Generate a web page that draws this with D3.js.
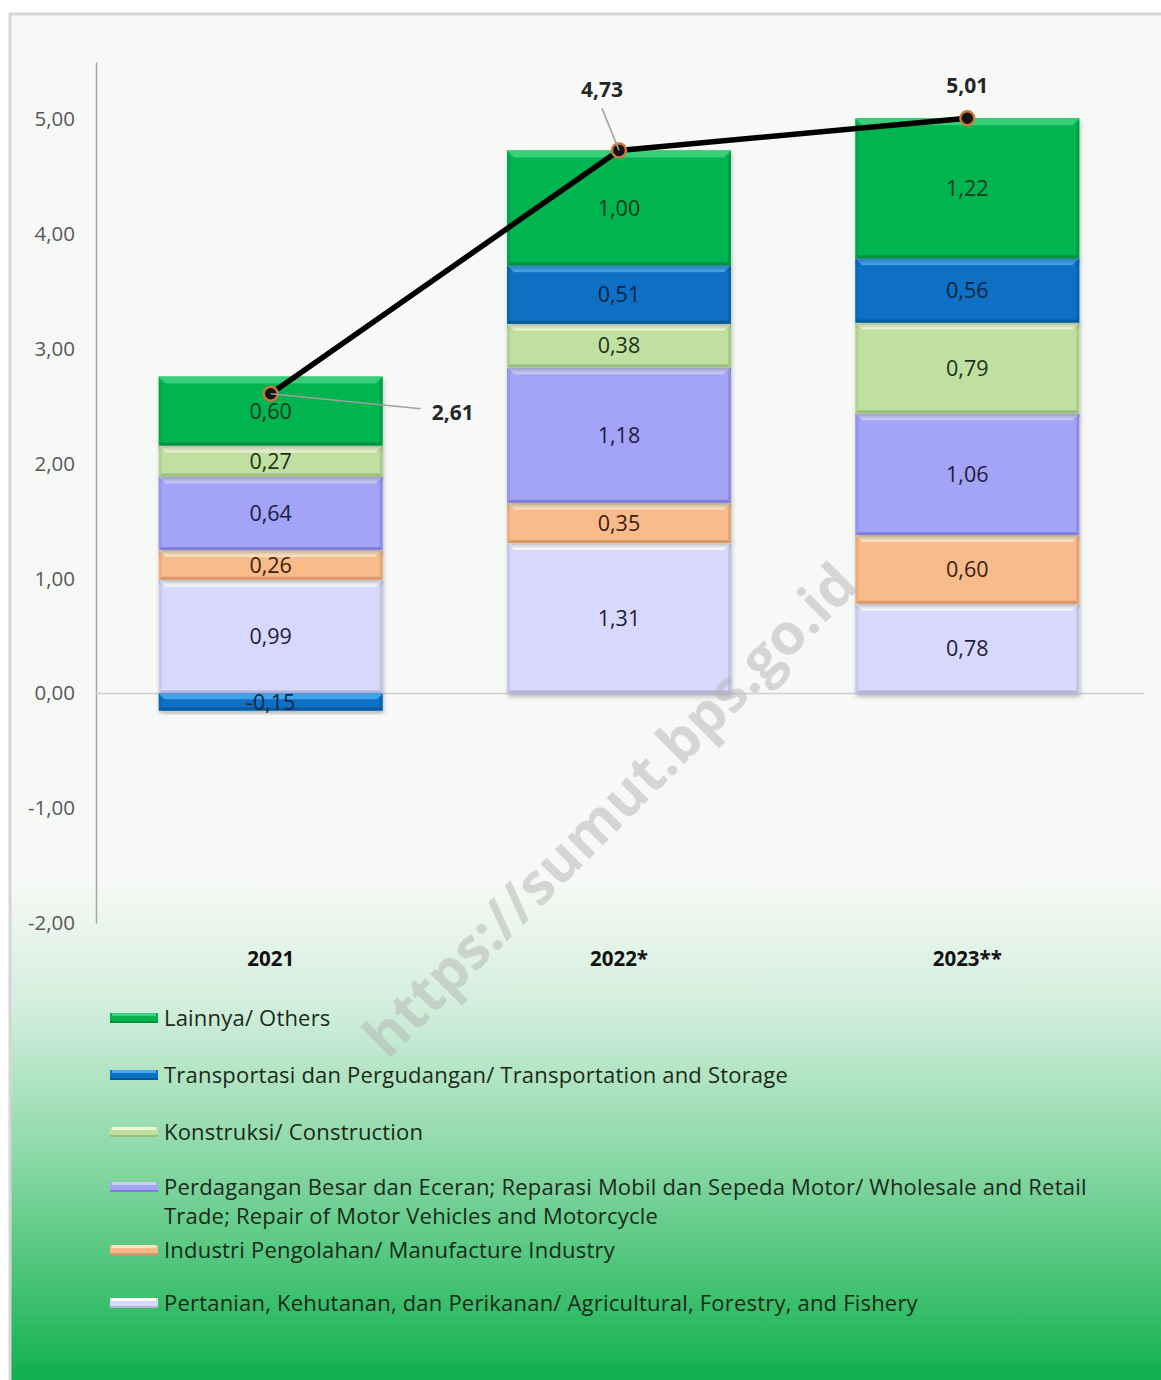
<!DOCTYPE html>
<html>
<head>
<meta charset="utf-8">
<script src="https://cdn.jsdelivr.net/npm/d3@7"></script>
<style>
  html, body { margin: 0; padding: 0; background: #ffffff; }
  svg { display: block; font-family: "Open Sans", Lato, sans-serif; }
</style>
</head>
<body>
<svg id="chart"></svg>
<script>
const years = ["2021", "2022*", "2023**"];
const agriculture = [0.99, 1.31, 0.78];
const manufacture = [0.26, 0.35, 0.60];
const trade = [0.64, 1.18, 1.06];
const construction = [0.27, 0.38, 0.79];
const transport = [-0.15, 0.51, 0.56];
const others = [0.60, 1.00, 1.22];
const growth = [2.61, 4.73, 5.01];
const yTicks = [-2, -1, 0, 1, 2, 3, 4, 5];

const sectorKeys = ["agri", "manuf", "trade", "constr", "trans", "others"];
const sectorValues = { agri: agriculture, manuf: manufacture, trade: trade, constr: construction, trans: transport, others: others };
const sectorNames = {
  others: ["Lainnya/ Others"],
  trans: ["Transportasi dan Pergudangan/ Transportation and Storage"],
  constr: ["Konstruksi/ Construction"],
  trade: ["Perdagangan Besar dan Eceran; Reparasi Mobil dan Sepeda Motor/ Wholesale and Retail", "Trade; Repair of Motor Vehicles and Motorcycle"],
  manuf: ["Industri Pengolahan/ Manufacture Industry"],
  agri: ["Pertanian, Kehutanan, dan Perikanan/ Agricultural, Forestry, and Fishery"]
};
const legendOrder = ["others", "trans", "constr", "trade", "manuf", "agri"];
const legendY = [1018, 1075, 1132, 1187, 1250, 1303];

const colors = {
  others: { fill: "#00b450", hi: "#3fd07e", lo: "#009040", text: "#0d3a1e" },
  trans:  { fill: "#0a70c4", hi: "#46aaf0", lo: "#055a9e", text: "#0c2440" },
  constr: { fill: "#bfe0a0", hi: "#f1f9d8", lo: "#98c078", text: "#1d3216" },
  trade:  { fill: "#a3a3f8", hi: "#cfcffe", lo: "#7f7fd8", text: "#1c1c3c" },
  manuf:  { fill: "#f9bb8a", hi: "#fde8c8", lo: "#d89868", text: "#3a2010" },
  agri:   { fill: "#d8d8fc", hi: "#ffffff", lo: "#b2b2dc", text: "#1c1c3c" }
};

const W = 1161, H = 1380;
const margin = { left: 96, right: 15, top: 62, bottom: 455 };
const fmt = d3.formatLocale({ decimal: ",", thousands: ".", grouping: [3], currency: ["", ""], minus: "-" }).format(".2f");

const svg = d3.select("#chart").attr("width", W).attr("height", H);
const defs = svg.append("defs");

const bg = defs.append("linearGradient").attr("id", "bg").attr("x1", 0).attr("y1", 0).attr("x2", 0).attr("y2", 1);
[[0, "#f7f9f6"], [0.63, "#f6f9f5"], [0.72, "#d2eedc"], [0.83, "#8ad8a6"], [0.93, "#3ec06e"], [1, "#08ac4a"]]
  .forEach(s => bg.append("stop").attr("offset", s[0]).attr("stop-color", s[1]));

const shadow = defs.append("filter").attr("id", "shadow").attr("x", "-10%").attr("y", "-10%").attr("width", "120%").attr("height", "130%");
shadow.append("feDropShadow").attr("dx", 1).attr("dy", 3).attr("stdDeviation", 2).attr("flood-color", "#000").attr("flood-opacity", 0.25);

// frame
svg.append("rect").attr("x", 10).attr("y", 14).attr("width", W).attr("height", H)
  .attr("fill", "url(#bg)").attr("stroke", "#d6d6d6").attr("stroke-width", 3);

const x = d3.scaleBand().domain(years).range([margin.left, W - margin.right - 4]).paddingInner(0.357).paddingOuter(0.18);
const y = d3.scaleLinear().domain([-2, 5.5]).range([H - margin.bottom - 2, margin.top]);

// y axis
const yAxis = svg.append("g").attr("transform", `translate(${margin.left},0)`)
  .call(d3.axisLeft(y).tickValues(yTicks).tickSize(0).tickPadding(21).tickFormat(fmt));
yAxis.select(".domain").attr("stroke", "#a6a6a6").attr("stroke-width", 1.5);
yAxis.selectAll("text").attr("fill", "#595959").style("font-size", "20.5px").style("font-family", "'Open Sans', sans-serif");

// zero line
svg.append("line").attr("x1", margin.left).attr("x2", 1144).attr("y1", y(0)).attr("y2", y(0))
  .attr("stroke", "#d0d0d0").attr("stroke-width", 1.5);

// stacked bars
const table = years.map((yr, i) => {
  const row = { year: yr };
  sectorKeys.forEach(k => row[k] = sectorValues[k][i]);
  return row;
});
const series = d3.stack().keys(sectorKeys).offset(d3.stackOffsetDiverging)(table);

const segs = [];
series.forEach(s => s.forEach(d => segs.push({ key: s.key, year: d.data.year, y0: d[0], y1: d[1], v: d.data[s.key] })));

const barG = svg.append("g");
const seg = barG.selectAll("g.seg").data(segs).join("g").attr("class", "seg").attr("filter", "url(#shadow)");
seg.each(function(d) {
  const g = d3.select(this);
  const x0 = x(d.year), bw = x.bandwidth();
  const top = y(Math.max(d.y0, d.y1)), bot = y(Math.min(d.y0, d.y1));
  const h = bot - top;
  const c = colors[d.key];
  g.append("rect").attr("x", x0).attr("y", top).attr("width", bw).attr("height", h).attr("fill", c.fill);
  const bev = Math.min(7, h / 3);
  g.append("path").attr("d", `M${x0},${top}H${x0 + bw}L${x0 + bw - bev},${top + bev}H${x0 + bev}Z`).attr("fill", c.hi).attr("opacity", 0.9);
  g.append("path").attr("d", `M${x0},${bot}H${x0 + bw}L${x0 + bw - 3},${bot - 3}H${x0 + 3}Z`).attr("fill", c.lo);
  g.append("path").attr("d", `M${x0 + bw},${top}V${bot}L${x0 + bw - 3},${bot - 3}V${top + bev}Z`).attr("fill", c.lo).attr("opacity", 0.6);
  g.append("path").attr("d", `M${x0},${top}V${bot}L${x0 + 3},${bot - 3}V${top + bev}Z`).attr("fill", c.lo).attr("opacity", 0.4);
});

barG.selectAll("text.val").data(segs).join("text").attr("class", "val")
  .attr("x", d => x(d.year) + x.bandwidth() / 2)
  .attr("y", d => y((d.y0 + d.y1) / 2))
  .attr("dy", "0.36em")
  .attr("text-anchor", "middle")
  .attr("fill", d => colors[d.key].text)
  .style("font-size", "21.5px")
  .text(d => fmt(d.v));

// growth line
const cx = (d, i) => x(years[i]) + x.bandwidth() / 2;
const line = d3.line().x((d, i) => cx(d, i)).y(d => y(d));
svg.append("path").datum(growth).attr("d", line).attr("fill", "none")
  .attr("stroke", "#000").attr("stroke-width", 5.5).attr("stroke-linejoin", "round");

svg.selectAll("circle.pt").data(growth).join("circle").attr("class", "pt")
  .attr("cx", cx).attr("cy", d => y(d)).attr("r", 7)
  .attr("fill", "#111").attr("stroke", "#c9773f").attr("stroke-width", 2.5);

// growth labels with leader lines
const labelOffsets = [{ dx: 182, dy: 19, lx: 150, ly: 15 }, { dx: -17, dy: -61, lx: -17, ly: -42 }, { dx: 0, dy: -33, lx: 0, ly: 0 }];
growth.forEach((g, i) => {
  const px = cx(g, i), py = y(g), o = labelOffsets[i];
  if (o.lx !== 0 || o.ly !== 0) {
    svg.append("line").attr("x1", px).attr("y1", py).attr("x2", px + o.lx).attr("y2", py + o.ly)
      .attr("stroke", "#a0a0a0").attr("stroke-width", 1.5);
  }
  svg.append("text").attr("x", px + o.dx).attr("y", py + o.dy).attr("dy", "0.36em")
    .attr("text-anchor", "middle").attr("fill", "#262626")
    .style("font-size", "21px").style("font-weight", "bold").text(fmt(g));
});

// category labels
svg.selectAll("text.cat").data(years).join("text").attr("class", "cat")
  .attr("x", d => x(d) + x.bandwidth() / 2).attr("y", 966)
  .attr("text-anchor", "middle").attr("fill", "#111")
  .style("font-size", "20.5px").style("font-weight", "bold").text(d => d);

// legend
const leg = svg.append("g").selectAll("g").data(legendOrder).join("g")
  .attr("transform", (d, i) => `translate(110,${legendY[i]})`);
leg.append("rect").attr("x", 0).attr("y", -5).attr("width", 48).attr("height", 10).attr("fill", d => colors[d].fill);
leg.append("rect").attr("x", 2).attr("y", -5).attr("width", 44).attr("height", 3).attr("fill", d => colors[d].hi);
leg.append("rect").attr("x", 0).attr("y", 3).attr("width", 48).attr("height", 2).attr("fill", d => colors[d].lo);
const lt = leg.append("text").attr("x", 54).attr("y", 0).attr("fill", "#1a2a1a")
  .style("font-size", "22px").style("letter-spacing", "0.2px");
lt.selectAll("tspan").data(d => sectorNames[d]).join("tspan")
  .attr("x", 54).attr("dy", (d, i) => i === 0 ? "0.36em" : "29px").text(d => d);

// watermark
svg.append("text").attr("transform", "translate(610,810) rotate(-45)")
  .attr("text-anchor", "middle").attr("dy", "0.35em")
  .attr("fill", "#b4b4b4").attr("opacity", 0.5)
  .style("font-size", "57px").style("font-weight", "bold").style("font-family", "'Open Sans', sans-serif")
  .text("https://sumut.bps.go.id");
</script>
</body>
</html>
